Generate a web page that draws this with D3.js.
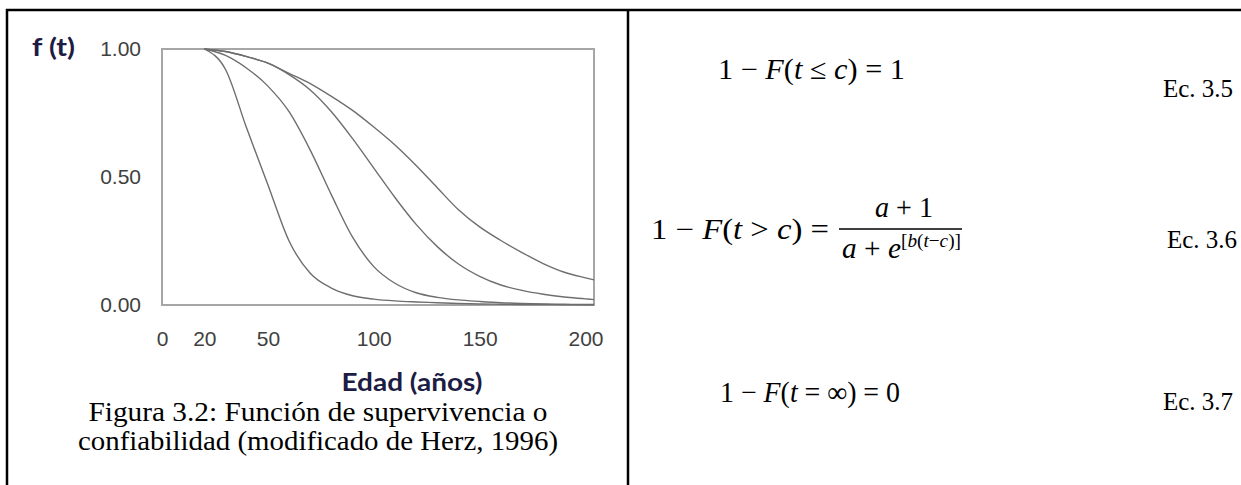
<!DOCTYPE html>
<html>
<head>
<meta charset="utf-8">
<script src="https://cdn.jsdelivr.net/npm/d3@7"></script>
<style>
  body { margin: 0; background: #fff; }
  .tick text { font-family: "Liberation Sans", Arial, sans-serif; font-size: 21px; fill: #404040; }
  .serif { font-family: "Liberation Serif", "Times New Roman", serif; fill: #000; }
  .lbl { font-family: Lato, "Open Sans", sans-serif; font-weight: bold; fill: #1c1c44; }
</style>
</head>
<body>
<svg id="fig" width="1241" height="485"></svg>
<script>
var ages   = [20, 30, 40, 50, 60, 70, 80, 90, 100, 110, 120, 130, 140, 150, 160, 170, 180, 190, 200, 204];
// survival f(t) for the four curves, steepest first
var survA  = [1, 0.92, 0.69, 0.47, 0.25, 0.124, 0.066, 0.036, 0.023, 0.016, 0.012, 0.009, 0.006, 0.004, 0.003, 0.002, 0.002, 0.001, 0.001, 0.001];
var survB  = [1, 0.975, 0.925, 0.855, 0.755, 0.605, 0.43, 0.265, 0.15, 0.085, 0.048, 0.03, 0.02, 0.014, 0.009, 0.006, 0.004, 0.003, 0.002, 0.002];
var survC  = [1, 0.99, 0.97, 0.945, 0.90, 0.84, 0.755, 0.65, 0.535, 0.42, 0.315, 0.228, 0.16, 0.112, 0.078, 0.057, 0.042, 0.031, 0.024, 0.021];
var survD  = [1, 0.99, 0.97, 0.945, 0.905, 0.865, 0.815, 0.76, 0.695, 0.625, 0.545, 0.458, 0.372, 0.305, 0.252, 0.205, 0.162, 0.128, 0.106, 0.098];
var xTicks = [0, 20, 50, 100, 150, 200];
var yTicks = [0, 0.5, 1];

var svg = d3.select("#fig");

// page frame: top rule, left rule and the column divider
svg.append("line").attr("x1", 6).attr("x2", 1241).attr("y1", 10).attr("y2", 10)
   .attr("stroke", "#000").attr("stroke-width", 2.5);
svg.append("line").attr("x1", 7).attr("x2", 7).attr("y1", 9).attr("y2", 485)
   .attr("stroke", "#000").attr("stroke-width", 2.5);
svg.append("line").attr("x1", 628).attr("x2", 628).attr("y1", 9).attr("y2", 485)
   .attr("stroke", "#000").attr("stroke-width", 2.5);

// ---- chart ----
var x = d3.scaleLinear().domain([0, 204]).range([162, 594]);
var y = d3.scaleLinear().domain([0, 1]).range([305, 49]);

svg.append("rect")
   .attr("x", x(0)).attr("y", y(1))
   .attr("width", x(204) - x(0)).attr("height", y(0) - y(1))
   .attr("fill", "none").attr("stroke", "#a6a6a6").attr("stroke-width", 2);

var line = d3.line()
   .x(function(d) { return x(d[0]); })
   .y(function(d) { return y(d[1]); })
   .curve(d3.curveMonotoneX);

[survA, survB, survC, survD].forEach(function(s)
{
    svg.append("path")
       .datum(ages.map(function(a, i) { return [a, s[i]]; }))
       .attr("d", line)
       .attr("fill", "none")
       .attr("stroke", "#6e6e6e")
       .attr("stroke-width", 1.4);
});

var xAxis = svg.append("g")
   .attr("transform", "translate(0," + y(0) + ")")
   .call(d3.axisBottom(x).tickValues(xTicks).tickSize(0).tickPadding(26));
xAxis.select(".domain").remove();

var yAxis = svg.append("g")
   .attr("transform", "translate(" + x(0) + ",0)")
   .call(d3.axisLeft(y).tickValues(yTicks).tickSize(0).tickPadding(21).tickFormat(d3.format(".2f")));
yAxis.select(".domain").remove();

svg.append("text").attr("class", "lbl")
   .attr("x", 32).attr("y", 56).attr("font-size", 24)
   .attr("textLength", 43).attr("lengthAdjust", "spacingAndGlyphs")
   .text("f (t)");

svg.append("text").attr("class", "lbl")
   .attr("x", 412).attr("y", 391).attr("font-size", 25).attr("text-anchor", "middle")
   .attr("textLength", 141).attr("lengthAdjust", "spacingAndGlyphs")
   .text("Edad (años)");

// caption
svg.append("text").attr("class", "serif")
   .attr("x", 318).attr("y", 421).attr("font-size", 27).attr("text-anchor", "middle")
   .attr("textLength", 459).attr("lengthAdjust", "spacingAndGlyphs")
   .text("Figura 3.2: Función de supervivencia o");
svg.append("text").attr("class", "serif")
   .attr("x", 318).attr("y", 450).attr("font-size", 27).attr("text-anchor", "middle")
   .attr("textLength", 480).attr("lengthAdjust", "spacingAndGlyphs")
   .text("confiabilidad (modificado de Herz, 1996)");

// ---- equations ----
// parts: [text, italic, raised]
function eq(px, py, size, parts, len)
{
    var t = svg.append("text").attr("class", "serif")
       .attr("x", px).attr("y", py).attr("font-size", size)
       .attr("xml:space", "preserve");
    if (len) t.attr("textLength", len).attr("lengthAdjust", "spacingAndGlyphs");
    parts.forEach(function(p)
    {
        var s = t.append("tspan").text(p[0]);
        if (p[1]) s.attr("font-style", "italic");
        if (p[2]) s.attr("font-size", 19).attr("baseline-shift", "11");
    });
    return t;
}

eq(718, 79, 29, [["1 − "], ["F", 1], ["("], ["t", 1], [" ≤ "], ["c", 1], [") = 1"]], 187);
eq(1163, 97, 25, [["Ec. 3.5"]]);

eq(651, 239, 29, [["1 − "], ["F", 1], ["("], ["t", 1], [" > "], ["c", 1], [") ="]], 178);
eq(875, 217, 29, [["a", 1], [" + 1"]], 58);
svg.append("line").attr("x1", 839).attr("x2", 962).attr("y1", 229).attr("y2", 229)
   .attr("stroke", "#000").attr("stroke-width", 1.6);
eq(842, 258, 29, [["a", 1], [" + "], ["e", 1], ["[", 0, 1], ["b", 1, 1], ["(", 0, 1], ["t", 1, 1], ["−", 0, 1], ["c", 1, 1], [")]", 0, 1]], 119);
eq(1167, 248, 25, [["Ec. 3.6"]]);

eq(720, 402, 29, [["1 − "], ["F", 1], ["("], ["t", 1], [" = ∞) = 0"]], 180);
eq(1163, 410, 25, [["Ec. 3.7"]]);
</script>
</body>
</html>
